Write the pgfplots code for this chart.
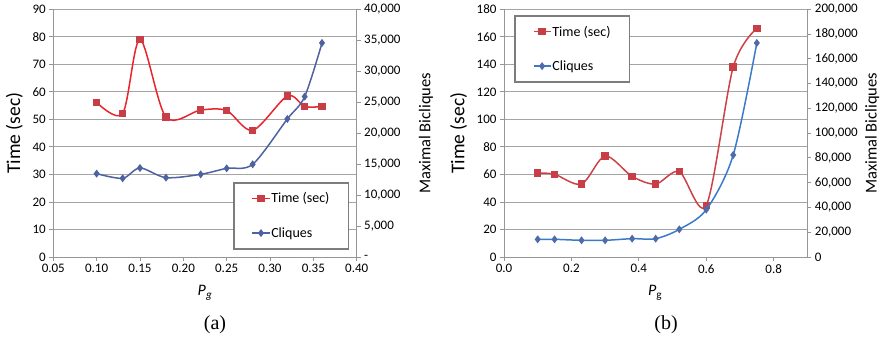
\documentclass[border=0pt]{standalone}
\usepackage{fontspec}
\setmainfont{Carlito}
\newfontfamily\capfont{Liberation Serif}
\usepackage{pgfplots}
\pgfplotsset{compat=1.18}
\definecolor{redL}{RGB}{232,36,44}
\definecolor{redLM}{RGB}{200,62,70}
\definecolor{blueL}{RGB}{78,98,160}
\definecolor{blueR}{RGB}{58,122,200}
\definecolor{blueRM}{RGB}{78,108,170}
\definecolor{redR}{RGB}{205,66,70}
\definecolor{axgray}{RGB}{150,150,150}
\definecolor{gridgray}{RGB}{165,165,165}
\definecolor{leggray}{RGB}{125,125,125}
\pgfplotsset{
  base/.style={scale only axis, width=303.4pt, height=247.7pt, anchor=south west,
    tick align=outside, major tick length=4pt,
    axis line style={axgray, line width=0.9pt},
    every tick/.style={axgray, line width=0.9pt},
    tick label style={font=\fontsize{13}{15}\selectfont, text=black},
    /pgf/number format/assume math mode=true,
    scaled ticks=false,
    clip=false},
  leg/.style={legend style={draw=leggray, line width=1.6pt, fill=white,
      font=\fontsize{14}{16}\selectfont, inner xsep=18pt, inner ysep=9pt,
      row sep=21pt, legend cell align=left,
      nodes={inner sep=1pt}}},
}
\begin{document}
\begin{tikzpicture}
\useasboundingbox (0pt,0pt) rectangle (884pt,343pt);
% ---------------- (a) ----------------
\begin{axis}[base, at={(53.3pt,86pt)},
  xmin=0.05, xmax=0.40, ymin=0, ymax=90,
  axis x line*=bottom, axis y line*=left,
  xtick={0.05,0.1,0.15,0.2,0.25,0.3,0.35,0.4},
  xticklabel style={/pgf/number format/.cd, fixed, fixed zerofill, precision=2},
  ytick={0,10,...,90},
  ymajorgrids, grid style={gridgray, line width=0.9pt},
  ylabel={Time (sec)},
  ylabel style={at={(axis description cs:-0.128,0.5)}, anchor=center, font=\fontsize{19.5}{22}\selectfont},
  xlabel={\textit{P}\textsubscript{\textit{g}}},
  xlabel style={at={(axis description cs:0.5,-0.145)}, anchor=center, font=\fontsize{16}{18}\selectfont},
]
\addplot[redL, line width=1.5pt, smooth, mark=square*, mark size=3pt,
  mark options={fill=redLM, draw=redLM}] coordinates {
  (0.10,56.2) (0.13,52.1) (0.15,79.1) (0.18,50.8) (0.22,53.4)
  (0.25,53.2) (0.28,46.0) (0.32,58.5) (0.34,54.7) (0.36,54.7)};
\end{axis}
\begin{axis}[base, leg, at={(53.3pt,86pt)},
  xmin=0.05, xmax=0.40, ymin=0, ymax=40000,
  axis x line=none, axis y line*=right,
  ytick={0,5000,...,40000},
  yticklabels={-,{5,000},{10,000},{15,000},{20,000},{25,000},{30,000},{35,000},{40,000}},
  ylabel={Maximal Bicliques},
  ylabel style={at={(axis description cs:1.2285,0.5)}, anchor=center, rotate=0, font=\fontsize{16.5}{18}\selectfont},
  legend style={at={(axis description cs:0.592,0.303)}, anchor=north west},
]
\addlegendimage{redL, line width=1.5pt, mark=square*, mark size=3pt, mark options={fill=redLM, draw=redLM}}
\addlegendentry{Time (sec)}
\addplot[blueL, line width=1.5pt, smooth, mark=diamond*, mark size=2.8pt,
  mark options={fill=blueL, draw=blueL}] coordinates {
  (0.10,13460) (0.13,12710) (0.15,14375) (0.18,12815) (0.22,13350)
  (0.25,14320) (0.28,14970) (0.32,22290) (0.34,25900) (0.36,34570)};
\addlegendentry{Cliques}
\end{axis}
% ---------------- (b) ----------------
\begin{axis}[base, at={(504pt,86pt)},
  xmin=0, xmax=0.9, ymin=0, ymax=180,
  axis x line*=bottom, axis y line*=left,
  xtick={0,0.2,0.4,0.6,0.8},
  xticklabel style={/pgf/number format/.cd, fixed, fixed zerofill, precision=1},
  ytick={0,20,...,180},
  ymajorgrids, grid style={gridgray, line width=0.9pt},
  ylabel={Time (sec)},
  ylabel style={at={(axis description cs:-0.15,0.5)}, anchor=center, font=\fontsize{19.5}{22}\selectfont},
  xlabel={\textit{P}\textsubscript{g}},
  xlabel style={at={(axis description cs:0.498,-0.145)}, anchor=center, font=\fontsize{16}{18}\selectfont},
]
\addplot[redR, line width=1.5pt, smooth, mark=square*, mark size=3pt,
  mark options={fill=redLM, draw=redLM}] coordinates {
  (0.10,61.0) (0.15,60.1) (0.23,53.0) (0.30,73.4) (0.38,58.6)
  (0.45,53.0) (0.52,62.0) (0.60,37.5) (0.68,138.1) (0.75,166.2)};
\end{axis}
\begin{axis}[base, leg, at={(504pt,86pt)},
  xmin=0, xmax=0.9, ymin=0, ymax=200000,
  axis x line=none, axis y line*=right,
  ytick={0,20000,...,200000},
  yticklabels={0,{20,000},{40,000},{60,000},{80,000},{100,000},{120,000},{140,000},{160,000},{180,000},{200,000}},
  ylabel={Maximal Bicliques},
  ylabel style={at={(axis description cs:1.214,0.5)}, anchor=center, rotate=0, font=\fontsize{16.5}{18}\selectfont},
  legend style={at={(axis description cs:0.033,0.977)}, anchor=north west},
]
\addlegendimage{redR, line width=1.5pt, mark=square*, mark size=3pt, mark options={fill=redLM, draw=redLM}}
\addlegendentry{Time (sec)}
\addplot[blueR, line width=1.5pt, smooth, mark=diamond*, mark size=2.8pt,
  mark options={fill=blueRM, draw=blueRM}] coordinates {
  (0.10,14270) (0.15,14270) (0.23,13460) (0.30,13460) (0.38,14800)
  (0.45,14800) (0.52,22340) (0.60,38230) (0.68,82370) (0.75,172800)};
\addlegendentry{Cliques}
\end{axis}
\node[font=\capfont\fontsize{20}{24}\selectfont] at (215pt,18pt) {(a)};
\node[font=\capfont\fontsize{20}{24}\selectfont] at (666pt,18pt) {(b)};
\end{tikzpicture}
\end{document}
